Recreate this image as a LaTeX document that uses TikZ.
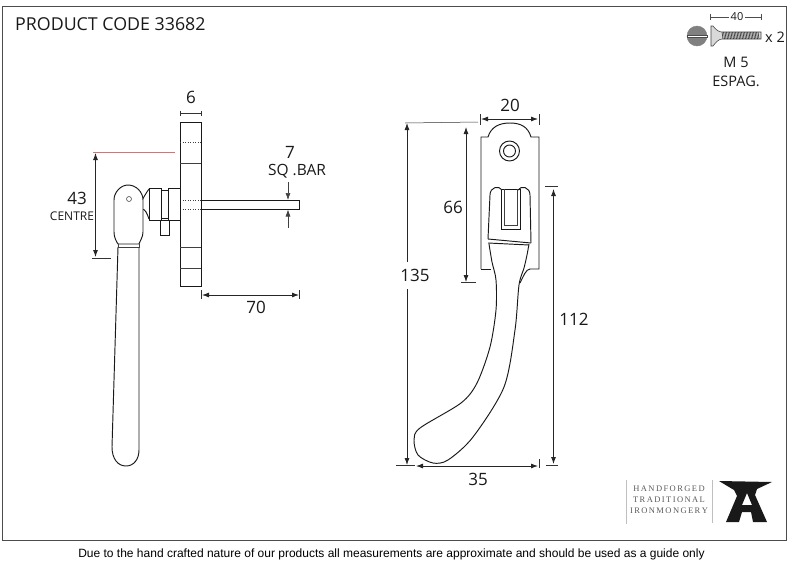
\documentclass[tikz,border=0pt]{standalone}
\usepackage{fontspec}
\setmainfont{Open Sans}
\newfontfamily\footfont{Liberation Sans}
\newfontfamily\logofont{Liberation Serif}
\usetikzlibrary{arrows.meta}
\tikzset{
    part/.style={line width=0.95pt,color=black!90},
    thin part/.style={line width=0.55pt,color=black!75},
    dimtip/.tip={Latex[length=7pt,width=5pt]},
    dim/.style={dimtip-dimtip,line width=0.8pt,color=black!85},
    ext/.style={line width=0.5pt,color=black!80},
    size/.style={font=\fontsize{17}{17}\selectfont,color=black!90,inner sep=0pt},
    small/.style={font=\fontsize{12}{12}\selectfont,color=black!90,inner sep=0pt},
    logoline/.style={font=\logofont\fontsize{8.5}{8.5}\selectfont,color=black!65,inner sep=0pt}
}
\begin{document}
\begin{tikzpicture}[x=1pt,y=-1pt]
    \useasboundingbox (0,0) rectangle (793,571);
    \draw[line width=1pt,color=black!70] (2,6) rectangle (786.5,540); % The frame
    \node[size,anchor=west,font=\fontsize{17.8}{18}\selectfont] (code) at (15,24) {PRODUCT CODE 33682};
    \node[inner sep=0pt,font=\footfont\fontsize{12}{12}\selectfont] (note) at (391.5,554) {Due to the hand crafted nature of our products all measurements are approximate and should be used as a guide only};
    % The screw
    \draw[fill=black!30,color=black!50] (697,36) circle (10);
    \draw[color=black!70,fill=white,line width=0.5pt] (687,35) rectangle (707,37);
    \draw[thin part,fill=black!15] (711,26) -- (713,26) .. controls (716,30) and (719,32) .. (722,32) -- (761,32) -- (761,39) -- (722,39) .. controls (719,39) and (716,42) .. (713,46) -- (711,46) -- cycle;
    \foreach \x in {722,723.5,...,759} % The thread
        \draw[color=black!75,line width=0.7pt] (\x,32) -- (\x+1,39);
    \draw[color=black!70] (710,14) -- (710,20);
    \draw[color=black!70] (761,14) -- (761,20);
    \draw[color=black!70] (710,17) -- (729,17);
    \draw[color=black!70] (745,17) -- (761,17);
    \node[small,font=\fontsize{11}{11}\selectfont] (screwlen) at (737,17) {40};
    \node[small,font=\fontsize{14.5}{14.5}\selectfont] (count) at (775,37) {x 2};
    \node[small,font=\fontsize{14.5}{14.5}\selectfont] (thread) at (736,62) {M 5};
    \node[small,font=\fontsize{14.5}{14.5}\selectfont] (espag) at (736,81) {ESPAG.};
    % The side view
    \draw[part] (180,122) rectangle (201,286);
    \foreach \y in {163,247,268} % Holes in the plate
        \draw[thin part] (180,\y) -- (201,\y);
    \foreach \y in {142,200,209}
        \draw[thin part,dotted] (180,\y) -- (201,\y);
    \draw[part] (201,200) rectangle (299.5,209.5);
    \draw[part] (149,188) rectangle (161,220);
    \draw[part] (161,190) rectangle (168,218);
    \draw[part] (168,188) rectangle (180,220);
    \draw[part] (160,220) rectangle (169,235);
    \draw[part] (142,200) .. controls (144,197) and (146,193) .. (149,189);
    \draw[part] (142,209) .. controls (145,209) and (147,213) .. (149,219);
    \draw[part] (118,247) -- (112,447) .. controls (112,459) and (118,466) .. (126,466) .. controls (134,466) and (139,459) .. (139,450) -- (139,247);
    \draw[part,fill=white] (114,200) .. controls (114,192) and (121,185) .. (128,185) .. controls (136,185) and (143,192) .. (143,200) -- (143,232) .. controls (143,237) and (140,241) .. (139,244) -- (118,244) .. controls (116,241) and (114,237) .. (114,232) -- cycle;
    \draw[thin part] (118,244) -- (118,247) -- (139,247) -- (139,244);
    \draw[thin part] (129,199) circle (2.5);
    % The front view
    \draw[part] (481,269) -- (481,137) -- (488,137) .. controls (491,127) and (499,123) .. (510,123) .. controls (521,123) and (528,127) .. (531,137) -- (539,137) -- (539,269) -- (530,269);
    \draw[part] (481,269) -- (491,269);
    \draw[part] (530,269) .. controls (526,269) and (523,277) .. (520,283);
    \draw[part] (509.5,151) circle (10);
    \draw[part] (509.5,151) circle (6);
    \draw[part] (488,239) -- (490,195) .. controls (490,187) and (499,185) .. (502,190);
    \draw[part] (531,243) -- (530,195) .. controls (530,187) and (521,185) .. (518,190);
    \draw[part] (501,189) -- (501,229) -- (520,229) -- (520,189) -- cycle;
    \draw[thin part] (504,189) -- (504,225) -- (517,225) -- (517,189);
    \draw[part] (488,239) -- (531,243);
    \draw[part] (488,243) -- (529,245);
    \draw[part,smooth] plot coordinates {(529,244) (527,255) (524,268) (519,285) (515,330) (504,387) (473,437) (448,460) (433,463) (418,455) (414,440) (420,428) (461,403) (477,383) (490,347) (496,310) (496,280) (492,262) (489,244)};
    % The dimensions
    \draw[ext] (180,113) -- (201,113);
    \foreach \x in {180,201}
        \draw[ext] (\x,110.5) -- (\x,116);
    \node[size] (sixtxt) at (191,97) {6};
    \draw[line width=0.4pt,color=red!45!black!50] (93,152) -- (175,152);
    \draw[ext] (92,258) -- (111,258);
    \draw[dim] (95.5,153) -- (95.5,257);
    \node[size] (centre) at (77,198) {43};
    \node[small] (centretxt) at (72,216) {CENTRE};
    \node[size] (bartxt) at (290,152) {7};
    \node[size,font=\fontsize{15.5}{15.5}\selectfont] (sqtxt) at (297,171) {SQ .BAR};
    \draw[-dimtip,line width=0.6pt,color=black!75] (288,182) -- (288,200);
    \draw[-dimtip,line width=0.6pt,color=black!75] (288,228) -- (288,209.5);
    \draw[dim] (202,295) -- (299,295);
    \foreach \x in {201,299}
        \draw[ext] (\x,290) -- (\x,299);
    \node[size] (seventy) at (256,307) {70};
    \draw[dim] (481,119) -- (538,119);
    \foreach \x in {480,539}
        \draw[ext] (\x,114) -- (\x,125);
    \node[size] (twenty) at (510,105) {20};
    \draw[ext] (405,123) -- (478,122);
    \draw[ext] (396,465.5) -- (415,465.5);
    \draw[dimtip-,line width=0.8pt,color=black!85] (407,123) -- (407,262);
    \draw[-dimtip,line width=0.8pt,color=black!85] (407,289) -- (407,465);
    \node[size] (full) at (415,275) {135};
    \draw[dim] (466,127) -- (466,282);
    \draw[ext] (461,282.5) -- (476,282.5);
    \node[size] (sixtysix) at (453,207) {66};
    \draw[ext] (545,186) -- (558,186);
    \draw[ext] (546,465) -- (558,465);
    \draw[dim] (553.5,189) -- (553.5,464);
    \node[size] (drop) at (574,319) {112};
    \draw[dim] (416,466) -- (538,466);
    \draw[ext] (539,459) -- (539,468);
    \node[size] (wide) at (478,479) {35};
    % The logo
    \draw[color=black!25] (626,480) -- (626,524);
    \draw[color=black!25] (712,480) -- (712,523);
    \node[logoline] (logoa) at (669,489) {H\,A\,N\,D\,F\,O\,R\,G\,E\,D};
    \node[logoline] (logob) at (669,500) {T\,R\,A\,D\,I\,T\,I\,O\,N\,A\,L};
    \node[logoline] (logoc) at (669,511) {I\,R\,O\,N\,M\,O\,N\,G\,E\,R\,Y};
    \fill[even odd rule,color=black!90] (719,481) -- (772,482) -- (757,489) -- (755,495) -- (767,522) -- (753,522) -- (751,512) -- (742,512) -- (739,522) -- (726,522) -- (737,496) -- (734,490) -- cycle (742,505) -- (752,505) -- (747,493) -- cycle;
\end{tikzpicture}
\end{document}
